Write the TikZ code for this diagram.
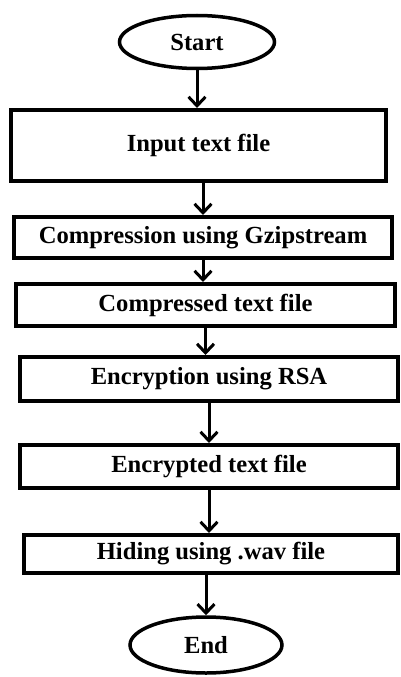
\documentclass[tikz,border=0pt]{standalone}
\usepackage{fontspec}
\setmainfont{Liberation Serif}
\usetikzlibrary{shapes.geometric,arrows.meta}
\tikzset{
  procbox/.style={draw=black, line width=4pt, rectangle, inner sep=0pt, fill=white,
    font=\fontsize{24.6}{28}\selectfont\bfseries},
  term/.style={draw=black, line width=3.5pt, ellipse, inner sep=0pt, fill=white,
    minimum width=155pt, minimum height=53pt,
    font=\fontsize{24.6}{28}\selectfont\bfseries},
  arr/.style={draw=black, line width=3pt, -{Straight Barb[length=9pt,width=17pt,line width=3pt]}}
}
\begin{document}
\begin{tikzpicture}[x=1pt,y=-1pt]
\useasboundingbox[fill=white] (0,0) rectangle (400,677);
\node[term] (s) at (197,42) {Start};
\node[procbox, minimum width=375pt, minimum height=71pt] (b1) at (198.5,145.5) {Input text file};
\node[procbox, minimum width=378pt, minimum height=41pt] (b2) at (203,237.5) {Compression using Gzipstream};
\node[procbox, minimum width=379pt, minimum height=42pt] (b3) at (205.5,305) {Compressed text file};
\node[procbox, minimum width=378pt, minimum height=44pt] (b4) at (209,379) {Encryption using RSA};
\node[procbox, minimum width=378pt, minimum height=43pt] (b5) at (209,466.5) {Encrypted text file};
\node[procbox, minimum width=374pt, minimum height=38pt] (b6) at (211,554) {Hiding using .wav file};
\node[term, minimum width=152pt, minimum height=56pt] (e) at (206,645) {End};
\draw[arr] (s.south) -- (s.south |- b1.north);
\draw[arr] (b1.south -| b2.north) -- (b2.north);
\draw[arr] (b2.south) -- (b2.south |- b3.north);
\draw[arr] (b3.south) -- (b3.south |- b4.north);
\draw[arr] (b4.south) -- (b5.north);
\draw[arr] (b5.south) -- (b5.south |- b6.north);
\draw[arr] (b6.south -| e.north) -- (e.north);
\end{tikzpicture}
\end{document}
